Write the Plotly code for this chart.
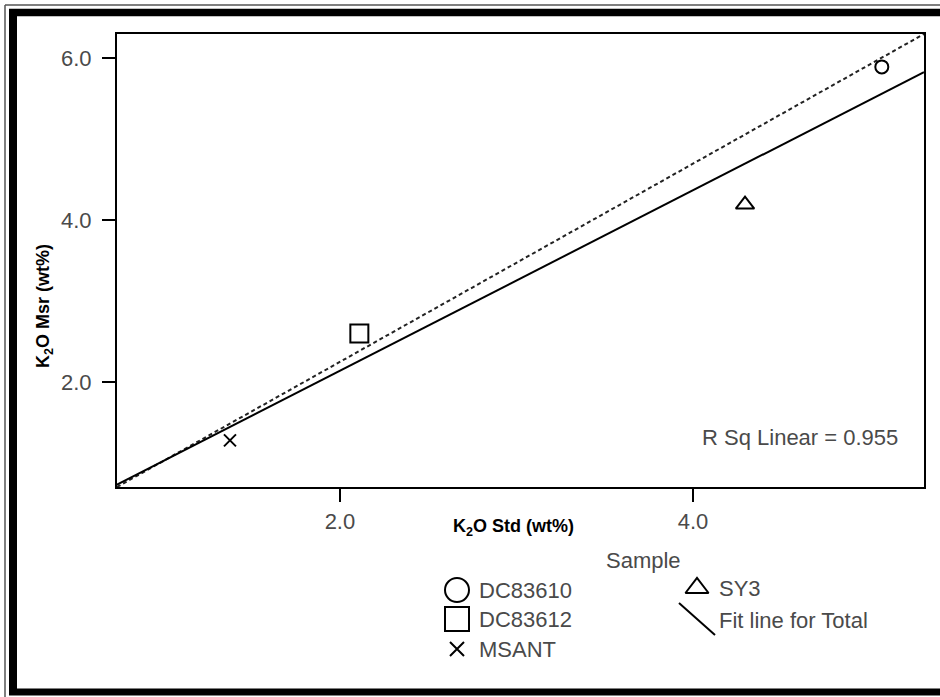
import numpy as np
import plotly.graph_objects as go

# ---- data ----
samples = ["DC83610", "DC83612", "MSANT", "SY3"]
k2o_std = [5.07, 2.11, 1.377, 4.295]
k2o_msr = [5.89, 2.60, 1.28, 4.19]
symbols = ["circle-open", "square-open", "x-thin-open", "triangle-up-open"]
marker_sizes = [13, 18, 12, 16]
x_ticks = [2.0, 4.0]
y_ticks = [2.0, 4.0, 6.0]
x_range = [0.737, 5.309]
y_range = [0.704, 6.296]
r_sq_text = "R Sq Linear = 0.955"

W, H = 940, 697
FONT = "Liberation Sans, Arial, sans-serif"
GRAY = "#4a4a4a"
FS = 22

# plot area in pixels
PL, PR, PT, PB = 117, 924, 34, 487

fig = go.Figure()

# diagonal reference (dashed) across the plot area
fig.add_trace(go.Scatter(x=x_range, y=y_range, mode="lines",
                         line=dict(color="#222", width=2, dash="4px,3px"),
                         showlegend=False, hoverinfo="skip"))

# linear fit line
slope, intercept = np.polyfit(k2o_std, k2o_msr, 1)
fx = np.array(x_range)
fig.add_trace(go.Scatter(x=fx, y=slope * fx + intercept, mode="lines",
                         line=dict(color="black", width=2),
                         showlegend=False, hoverinfo="skip"))

for s, x, y, sym, ms in zip(samples, k2o_std, k2o_msr, symbols, marker_sizes):
    fig.add_trace(go.Scatter(x=[x], y=[y], mode="markers", name=s,
                             marker=dict(symbol=sym, size=ms, color="black",
                                         line=dict(color="black", width=2)),
                             showlegend=False))

# ---- manual legend on a pixel overlay axis ----
leg_sym = {"DC83610": ("circle-open", 24, 457, 590),
           "DC83612": ("square-open", 24, 457, 619),
           "MSANT": ("x-thin-open", 14, 457, 649),
           "SY3": ("triangle-up-open", 20, 697, 588)}
for s in samples:
    sym, ms, lx, ly = leg_sym[s]
    fig.add_trace(go.Scatter(x=[lx], y=[ly], mode="markers", xaxis="x2", yaxis="y2",
                             marker=dict(symbol=sym, size=ms, color="black",
                                         line=dict(color="black", width=2)),
                             showlegend=False, hoverinfo="skip"))
    fig.add_annotation(x=(lx + 20) / W, y=1 - ly / H, xref="paper", yref="paper",
                       text=s, showarrow=False, xanchor="left", yanchor="middle",
                       font=dict(family=FONT, size=FS, color=GRAY))
fig.add_trace(go.Scatter(x=[679, 715], y=[603, 635], mode="lines", xaxis="x2", yaxis="y2",
                         line=dict(color="black", width=2),
                         showlegend=False, hoverinfo="skip"))
fig.add_annotation(x=717 / W, y=1 - 620 / H, xref="paper", yref="paper",
                   text="Fit line for Total", showarrow=False, xanchor="left", yanchor="middle",
                   font=dict(family=FONT, size=FS, color=GRAY))
fig.add_annotation(x=643 / W, y=1 - 560 / H, xref="paper", yref="paper",
                   text="Sample", showarrow=False, xanchor="center", yanchor="middle",
                   font=dict(family=FONT, size=FS, color=GRAY))

# axis titles & R^2
fig.add_annotation(x=513 / W, y=1 - 527 / H, xref="paper", yref="paper",
                   text="<b>K<sub>2</sub>O Std (wt%)</b>", showarrow=False,
                   xanchor="center", yanchor="middle",
                   font=dict(family=FONT, size=18, color="black"))
fig.add_annotation(x=45 / W, y=1 - 306 / H, xref="paper", yref="paper",
                   text="<b>K<sub>2</sub>O Msr (wt%)</b>", showarrow=False, textangle=-90,
                   xanchor="center", yanchor="middle",
                   font=dict(family=FONT, size=18, color="black"))
fig.add_annotation(x=900 / W, y=1 - 437 / H, xref="paper", yref="paper",
                   text=r_sq_text, showarrow=False, xanchor="right", yanchor="middle",
                   font=dict(family=FONT, size=FS, color=GRAY))

# outer frame
def hline(y, x0, x1, w, c):
    fig.add_shape(type="line", xref="paper", yref="paper", x0=x0 / W, x1=x1 / W,
                  y0=1 - y / H, y1=1 - y / H, line=dict(color=c, width=w))
def vline(x, y0, y1, w, c):
    fig.add_shape(type="line", xref="paper", yref="paper", x0=x / W, x1=x / W,
                  y0=1 - y0 / H, y1=1 - y1 / H, line=dict(color=c, width=w))
hline(5, 5, W, 1.5, "#555")
vline(5, 5, H, 1.5, "#555")
hline(12.5, 9, W, 7.5, "black")
vline(13, 9, 695, 8, "black")
hline(692, 9, W, 7, "black")

axis_common = dict(showline=True, linecolor="black", linewidth=2, mirror=True,
                   ticks="outside", ticklen=13, tickwidth=2, tickcolor="black",
                   showgrid=False, zeroline=False, tickformat=".1f",
                   tickfont=dict(family=FONT, size=FS, color=GRAY))
fig.update_layout(
    width=W, height=H, margin=dict(l=0, r=0, t=0, b=0),
    paper_bgcolor="white", plot_bgcolor="rgba(0,0,0,0)", showlegend=False,
    xaxis=dict(domain=[PL / W, PR / W], range=x_range, tickvals=x_ticks,
               ticklabelstandoff=1, **axis_common),
    yaxis=dict(domain=[1 - PB / H, 1 - PT / H], range=y_range, tickvals=y_ticks,
               ticklabelstandoff=6, **axis_common),
    xaxis2=dict(domain=[0, 1], range=[0, W], visible=False, anchor="y2"),
    yaxis2=dict(domain=[0, 1], range=[H, 0], visible=False, anchor="x2"),
)

fig.write_html("out.html", config={"displayModeBar": False},
               post_script="document.body.style.margin='0';document.body.style.overflow='hidden';")
